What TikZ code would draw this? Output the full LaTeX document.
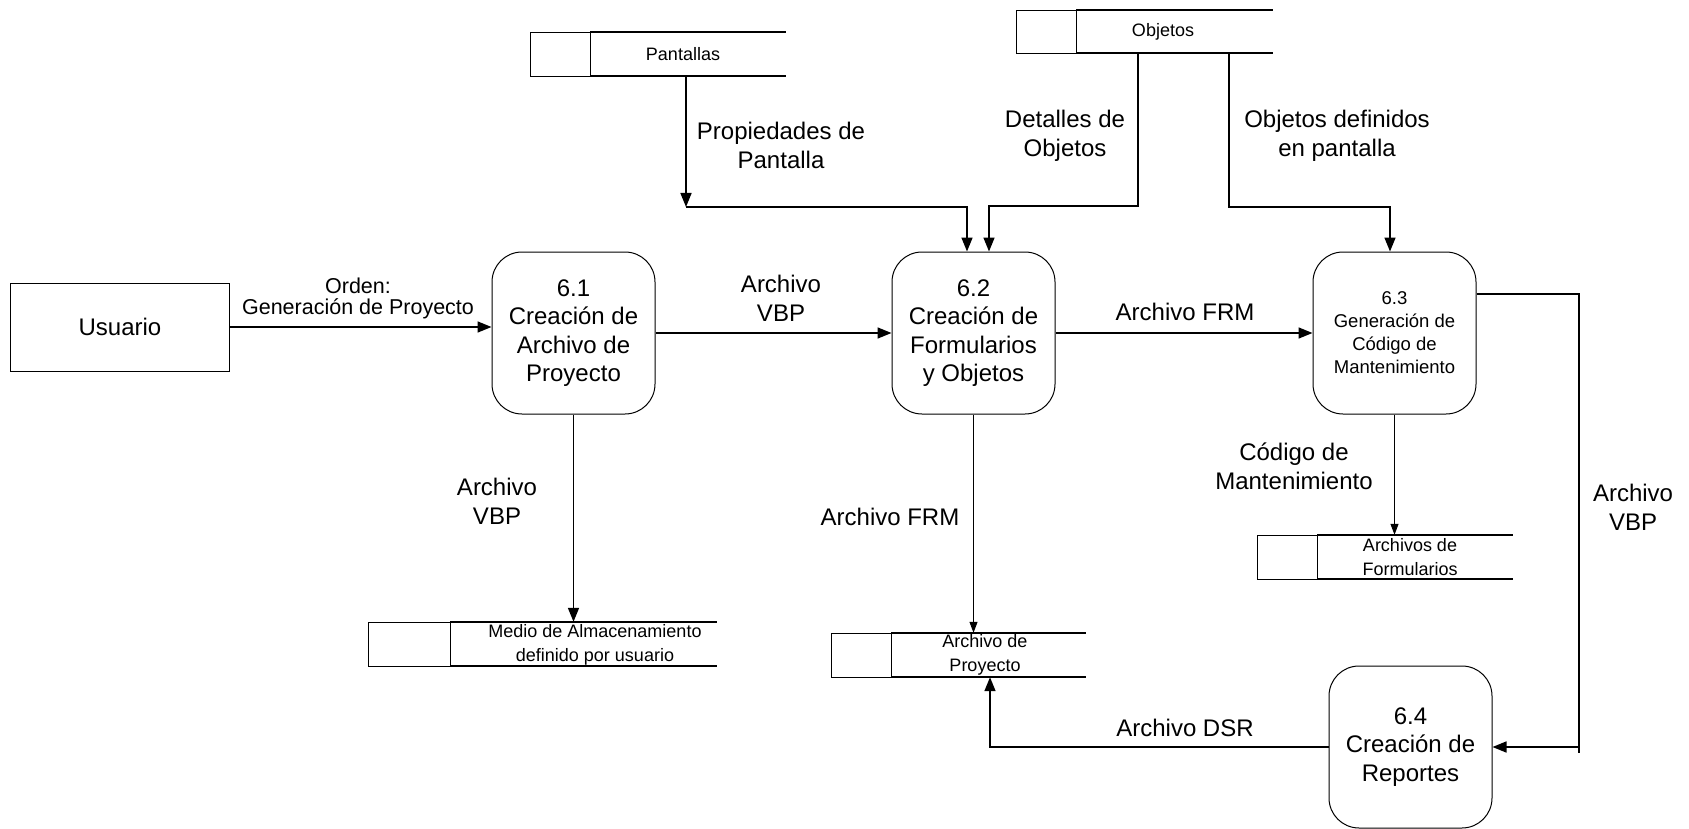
\documentclass[tikz,border=0pt]{standalone}
\usepackage{fontspec}
\setmainfont{Liberation Sans}
\usetikzlibrary{arrows.meta,calc}
\newcommand\mystore[6]{%
  \node[inner sep=0pt, minimum width={#4-#2}, minimum height={#6-#5}] (#1) at ({(#2+#4)/2},{(#5+#6)/2}) {};
  \draw[storeleft] (#2,#5) rectangle (#3,#6);
  \draw[storeline] (#3,#5) -- (#4,#5) (#3,#6) -- (#4,#6);
}
\begin{document}
\begin{tikzpicture}[x=1pt,y=-1pt,
  proc/.style={draw, line width=1pt, rounded corners=30pt, minimum width=163pt, minimum height=162pt, align=center, inner sep=0pt, font=\fontsize{24}{28.5}\selectfont},
  procsmall/.style={proc, font=\fontsize{18.5}{23}\selectfont},
  ent/.style={draw, line width=1pt, minimum width=219pt, minimum height=88pt, inner sep=0pt, font=\fontsize{24}{28}\selectfont},
  lbl/.style={align=center, inner sep=0pt, font=\fontsize{24}{29}\selectfont},
  stxt/.style={align=center, inner sep=0pt, font=\fontsize{18}{24}\selectfont},
  storeleft/.style={line width=0.9pt},
  storeline/.style={line width=1.6pt},
  flow/.style={line width=1.6pt, -{Triangle[length=14pt,width=11pt]}},
  thinflow/.style={line width=1pt, -{Triangle[length=11pt,width=8pt]}},
  plain/.style={line width=1.6pt}]
\useasboundingbox (0,0) rectangle (1689,829);

% external entity
\node[ent] (usuario) at (120,327) {Usuario};

% processes
\node[proc] (p61) at (573.5,333) {6.1\\Creación de\\Archivo de\\Proyecto};
\node[proc] (p62) at (973.5,333) {6.2\\Creación de\\Formularios\\y Objetos};
\node[procsmall] (p63) at (1394.5,333) {6.3\\Generación de\\Código de\\Mantenimiento};
\node[proc] (p64) at (1410.5,747) {6.4\\Creación de\\Reportes};

% data stores
\mystore{pant}{530}{590}{786}{32}{76}
\node[stxt] (pant-t) at (683,54) {Pantallas};
\mystore{obj}{1016}{1076}{1273}{10}{53}
\node[stxt] (obj-t) at (1163,32) {Objetos};
\mystore{medio}{368}{450}{717}{622}{666}
\node[stxt] (medio-t) at (595,645) {Medio de Almacenamiento\\definido por usuario};
\mystore{aproy}{831}{891}{1086}{633}{677}
\node[stxt] (aproy-t) at (985,655) {Archivo de\\Proyecto};
\mystore{aform}{1257}{1317}{1513}{535}{579}
\node[stxt] (aform-t) at (1410,557) {Archivos de\\Formularios};

% junction coordinates
\coordinate (pj) at (686,207);
\coordinate (pk) at (967,207);
\coordinate (oa) at (1138,206);
\coordinate (ob) at (989,206);
\coordinate (oc) at (1229,207);
\coordinate (od) at (1390,207);
\coordinate (ra) at (1579,294);
\coordinate (rb) at (1579,753);
\coordinate (da) at (990,747);

% flows
\draw[flow] (usuario.east) -- (usuario.east -| p61.west);
\node[lbl, font=\fontsize{21.5}{21}\selectfont] (l1) at (358,298) {Orden:\\Generación de Proyecto};

\draw[flow] (p61.east) -- (p62.west);
\node[lbl] (l2) at (781,298) {Archivo\\VBP};

\draw[flow] (p62.east) -- (p63.west);
\node[lbl] (l3) at (1185,312) {Archivo FRM};

\draw[flow] (pant.south -| pj) -- (pj);
\draw[flow] (pj) -- (pk) -- (pk |- p62.north);
\node[lbl] (l4) at (781,145) {Propiedades de\\Pantalla};

\draw[flow] (obj.south -| oa) -- (oa) -- (ob) -- (ob |- p62.north);
\node[lbl] (l5) at (1065,136) {Detalles de\\Objetos};

\draw[flow] (obj.south -| oc) -- (oc) -- (od) -- (od |- p63.north);
\node[lbl] (l6) at (1337,136) {Objetos definidos\\en pantalla};

\draw[flow] (p61.south) -- (medio.north -| p61.south);
\node[lbl] (l7) at (497,501) {Archivo\\VBP};

\draw[thinflow] (p62.south) -- (aproy.north -| p62.south);
\node[lbl] (l8) at (890,517) {Archivo FRM};

\draw[thinflow] (p63.south) -- (aform.north -| p63.south);
\node[lbl] (l9) at (1294,466) {Código de\\Mantenimiento};

\draw[plain] (p63.east |- ra) -- (ra) -- (rb);
\draw[flow] (rb |- p64.east) -- (p64.east);
\node[lbl] (l10) at (1633,507) {Archivo\\VBP};

\draw[flow] (p64.west) -- (da) -- (da |- aproy.south);
\node[lbl] (l11) at (1185,728) {Archivo DSR};
\end{tikzpicture}
\end{document}
